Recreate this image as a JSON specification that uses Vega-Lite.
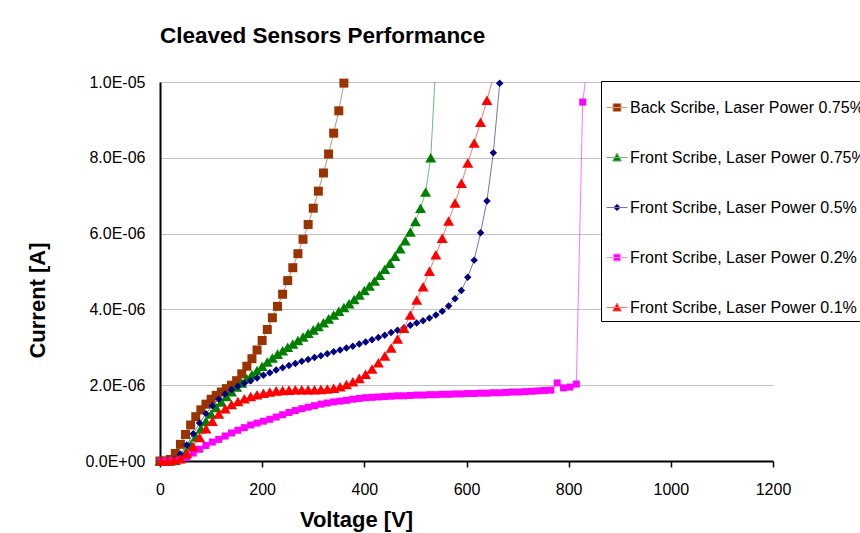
{
  "$schema": "https://vega.github.io/schema/vega-lite/v6.json",
  "width": 613,
  "height": 379,
  "autosize": {"type": "none"},
  "padding": {"left": 160, "top": 82, "right": 87, "bottom": 72},
  "background": "white",
  "title": {"text": "Cleaved Sensors Performance", "anchor": "start", "frame": "group", "offset": 9, "baseline": "alphabetic", "font": "Liberation Sans", "fontSize": 22.5, "fontWeight": "bold", "color": "black"},
  "config": {"view": {"stroke": null}, "font": "Liberation Sans"},
  "datasets": {
    "d": [
      {"s":"a","V":0,"I":0},{"s":"a","V":10,"I":0},{"s":"a","V":20,"I":0.04e-6},{"s":"a","V":30,"I":0.2e-6},{"s":"a","V":40,"I":0.44e-6},{"s":"a","V":50,"I":0.7e-6},{"s":"a","V":60,"I":0.95e-6},{"s":"a","V":70,"I":1.17e-6},{"s":"a","V":80,"I":1.35e-6},{"s":"a","V":90,"I":1.5e-6},{"s":"a","V":100,"I":1.63e-6},{"s":"a","V":110,"I":1.73e-6},{"s":"a","V":120,"I":1.82e-6},{"s":"a","V":130,"I":1.91e-6},{"s":"a","V":140,"I":2.0e-6},{"s":"a","V":150,"I":2.12e-6},{"s":"a","V":160,"I":2.3e-6},{"s":"a","V":170,"I":2.5e-6},{"s":"a","V":180,"I":2.7e-6},{"s":"a","V":190,"I":2.93e-6},{"s":"a","V":200,"I":3.18e-6},{"s":"a","V":210,"I":3.47e-6},{"s":"a","V":220,"I":3.78e-6},{"s":"a","V":230,"I":4.08e-6},{"s":"a","V":240,"I":4.4e-6},{"s":"a","V":250,"I":4.76e-6},{"s":"a","V":260,"I":5.1e-6},{"s":"a","V":270,"I":5.47e-6},{"s":"a","V":280,"I":5.85e-6},{"s":"a","V":290,"I":6.24e-6},{"s":"a","V":300,"I":6.67e-6},{"s":"a","V":310,"I":7.12e-6},{"s":"a","V":320,"I":7.6e-6},{"s":"a","V":330,"I":8.1e-6},{"s":"a","V":340,"I":8.65e-6},{"s":"a","V":350,"I":9.24e-6},{"s":"a","V":360,"I":9.97e-6},
      {"s":"b","V":0,"I":0},{"s":"b","V":10,"I":0},{"s":"b","V":20,"I":0},{"s":"b","V":30,"I":0.02e-6},{"s":"b","V":40,"I":0.08e-6},{"s":"b","V":50,"I":0.22e-6},{"s":"b","V":60,"I":0.42e-6},{"s":"b","V":70,"I":0.64e-6},{"s":"b","V":80,"I":0.85e-6},{"s":"b","V":90,"I":1.05e-6},{"s":"b","V":100,"I":1.24e-6},{"s":"b","V":110,"I":1.41e-6},{"s":"b","V":120,"I":1.56e-6},{"s":"b","V":130,"I":1.7e-6},{"s":"b","V":140,"I":1.83e-6},{"s":"b","V":150,"I":1.95e-6},{"s":"b","V":160,"I":2.06e-6},{"s":"b","V":170,"I":2.17e-6},{"s":"b","V":180,"I":2.28e-6},{"s":"b","V":190,"I":2.39e-6},{"s":"b","V":200,"I":2.5e-6},{"s":"b","V":210,"I":2.61e-6},{"s":"b","V":220,"I":2.72e-6},{"s":"b","V":230,"I":2.82e-6},{"s":"b","V":240,"I":2.91e-6},{"s":"b","V":250,"I":3.0e-6},{"s":"b","V":260,"I":3.09e-6},{"s":"b","V":270,"I":3.18e-6},{"s":"b","V":280,"I":3.27e-6},{"s":"b","V":290,"I":3.37e-6},{"s":"b","V":300,"I":3.46e-6},{"s":"b","V":310,"I":3.55e-6},{"s":"b","V":320,"I":3.65e-6},{"s":"b","V":330,"I":3.75e-6},{"s":"b","V":340,"I":3.85e-6},{"s":"b","V":350,"I":3.95e-6},{"s":"b","V":360,"I":4.05e-6},{"s":"b","V":370,"I":4.15e-6},{"s":"b","V":380,"I":4.26e-6},{"s":"b","V":390,"I":4.38e-6},{"s":"b","V":400,"I":4.5e-6},{"s":"b","V":410,"I":4.62e-6},{"s":"b","V":420,"I":4.75e-6},{"s":"b","V":430,"I":4.9e-6},{"s":"b","V":440,"I":5.06e-6},{"s":"b","V":450,"I":5.22e-6},{"s":"b","V":460,"I":5.4e-6},{"s":"b","V":470,"I":5.6e-6},{"s":"b","V":480,"I":5.81e-6},{"s":"b","V":490,"I":6.04e-6},{"s":"b","V":500,"I":6.32e-6},{"s":"b","V":510,"I":6.67e-6},{"s":"b","V":520,"I":7.1e-6},{"s":"b","V":530,"I":8.0e-6},{"s":"b","V":540,"I":10.5e-6},
      {"s":"c","V":2.5,"I":0},{"s":"c","V":15,"I":0},{"s":"c","V":27.5,"I":0.04e-6},{"s":"c","V":40,"I":0.18e-6},{"s":"c","V":52.5,"I":0.42e-6},{"s":"c","V":65,"I":0.72e-6},{"s":"c","V":77.5,"I":1.0e-6},{"s":"c","V":90,"I":1.25e-6},{"s":"c","V":102.5,"I":1.46e-6},{"s":"c","V":115,"I":1.63e-6},{"s":"c","V":127.5,"I":1.77e-6},{"s":"c","V":140,"I":1.88e-6},{"s":"c","V":152.5,"I":1.97e-6},{"s":"c","V":165,"I":2.05e-6},{"s":"c","V":177.5,"I":2.12e-6},{"s":"c","V":190,"I":2.19e-6},{"s":"c","V":202.5,"I":2.26e-6},{"s":"c","V":215,"I":2.33e-6},{"s":"c","V":227.5,"I":2.4e-6},{"s":"c","V":240,"I":2.46e-6},{"s":"c","V":252.5,"I":2.52e-6},{"s":"c","V":265,"I":2.57e-6},{"s":"c","V":277.5,"I":2.63e-6},{"s":"c","V":290,"I":2.68e-6},{"s":"c","V":302.5,"I":2.73e-6},{"s":"c","V":315,"I":2.78e-6},{"s":"c","V":327.5,"I":2.83e-6},{"s":"c","V":340,"I":2.88e-6},{"s":"c","V":352.5,"I":2.93e-6},{"s":"c","V":365,"I":2.98e-6},{"s":"c","V":377.5,"I":3.03e-6},{"s":"c","V":390,"I":3.09e-6},{"s":"c","V":402.5,"I":3.14e-6},{"s":"c","V":415,"I":3.2e-6},{"s":"c","V":427.5,"I":3.26e-6},{"s":"c","V":440,"I":3.32e-6},{"s":"c","V":452.5,"I":3.39e-6},{"s":"c","V":465,"I":3.45e-6},{"s":"c","V":477.5,"I":3.51e-6},{"s":"c","V":490,"I":3.58e-6},{"s":"c","V":502.5,"I":3.64e-6},{"s":"c","V":515,"I":3.7e-6},{"s":"c","V":527.5,"I":3.77e-6},{"s":"c","V":540,"I":3.85e-6},{"s":"c","V":552.5,"I":3.95e-6},{"s":"c","V":565,"I":4.09e-6},{"s":"c","V":577.5,"I":4.28e-6},{"s":"c","V":590,"I":4.5e-6},{"s":"c","V":602.5,"I":4.85e-6},{"s":"c","V":615,"I":5.3e-6},{"s":"c","V":627.5,"I":6.02e-6},{"s":"c","V":640,"I":6.86e-6},{"s":"c","V":652.5,"I":8.13e-6},{"s":"c","V":665,"I":9.97e-6},
      {"s":"d","V":2.5,"I":0},{"s":"d","V":15,"I":0},{"s":"d","V":27.5,"I":0},{"s":"d","V":40,"I":0.03e-6},{"s":"d","V":52.5,"I":0.1e-6},{"s":"d","V":65,"I":0.21e-6},{"s":"d","V":77.5,"I":0.31e-6},{"s":"d","V":90,"I":0.41e-6},{"s":"d","V":102.5,"I":0.5e-6},{"s":"d","V":115,"I":0.57e-6},{"s":"d","V":127.5,"I":0.66e-6},{"s":"d","V":140,"I":0.74e-6},{"s":"d","V":152.5,"I":0.81e-6},{"s":"d","V":165,"I":0.88e-6},{"s":"d","V":177.5,"I":0.95e-6},{"s":"d","V":190,"I":1.0e-6},{"s":"d","V":202.5,"I":1.05e-6},{"s":"d","V":215,"I":1.1e-6},{"s":"d","V":227.5,"I":1.16e-6},{"s":"d","V":240,"I":1.22e-6},{"s":"d","V":252.5,"I":1.28e-6},{"s":"d","V":265,"I":1.33e-6},{"s":"d","V":277.5,"I":1.38e-6},{"s":"d","V":290,"I":1.42e-6},{"s":"d","V":302.5,"I":1.46e-6},{"s":"d","V":315,"I":1.5e-6},{"s":"d","V":327.5,"I":1.53e-6},{"s":"d","V":340,"I":1.56e-6},{"s":"d","V":352.5,"I":1.58e-6},{"s":"d","V":365,"I":1.6e-6},{"s":"d","V":377.5,"I":1.63e-6},{"s":"d","V":390,"I":1.65e-6},{"s":"d","V":402.5,"I":1.67e-6},{"s":"d","V":415,"I":1.68e-6},{"s":"d","V":427.5,"I":1.69e-6},{"s":"d","V":440,"I":1.7e-6},{"s":"d","V":452.5,"I":1.71e-6},{"s":"d","V":465,"I":1.72e-6},{"s":"d","V":477.5,"I":1.72e-6},{"s":"d","V":490,"I":1.73e-6},{"s":"d","V":502.5,"I":1.74e-6},{"s":"d","V":515,"I":1.74e-6},{"s":"d","V":527.5,"I":1.75e-6},{"s":"d","V":540,"I":1.75e-6},{"s":"d","V":552.5,"I":1.76e-6},{"s":"d","V":565,"I":1.76e-6},{"s":"d","V":577.5,"I":1.77e-6},{"s":"d","V":590,"I":1.77e-6},{"s":"d","V":602.5,"I":1.78e-6},{"s":"d","V":615,"I":1.78e-6},{"s":"d","V":627.5,"I":1.79e-6},{"s":"d","V":640,"I":1.79e-6},{"s":"d","V":652.5,"I":1.8e-6},{"s":"d","V":665,"I":1.8e-6},{"s":"d","V":677.5,"I":1.81e-6},{"s":"d","V":690,"I":1.82e-6},{"s":"d","V":702.5,"I":1.82e-6},{"s":"d","V":715,"I":1.83e-6},{"s":"d","V":727.5,"I":1.84e-6},{"s":"d","V":740,"I":1.85e-6},{"s":"d","V":752.5,"I":1.86e-6},{"s":"d","V":765,"I":1.87e-6},{"s":"d","V":777.5,"I":2.06e-6},{"s":"d","V":790,"I":1.93e-6},{"s":"d","V":802.5,"I":1.95e-6},{"s":"d","V":815,"I":2.03e-6},{"s":"d","V":827.5,"I":9.47e-6},{"s":"d","V":840,"I":10.8e-6},
      {"s":"e","V":2.5,"I":0},{"s":"e","V":15,"I":0},{"s":"e","V":27.5,"I":0.02e-6},{"s":"e","V":40,"I":0.06e-6},{"s":"e","V":52.5,"I":0.2e-6},{"s":"e","V":65,"I":0.38e-6},{"s":"e","V":77.5,"I":0.62e-6},{"s":"e","V":90,"I":0.85e-6},{"s":"e","V":102.5,"I":1.05e-6},{"s":"e","V":115,"I":1.24e-6},{"s":"e","V":127.5,"I":1.38e-6},{"s":"e","V":140,"I":1.49e-6},{"s":"e","V":152.5,"I":1.57e-6},{"s":"e","V":165,"I":1.64e-6},{"s":"e","V":177.5,"I":1.7e-6},{"s":"e","V":190,"I":1.75e-6},{"s":"e","V":202.5,"I":1.79e-6},{"s":"e","V":215,"I":1.82e-6},{"s":"e","V":227.5,"I":1.85e-6},{"s":"e","V":240,"I":1.86e-6},{"s":"e","V":252.5,"I":1.87e-6},{"s":"e","V":265,"I":1.88e-6},{"s":"e","V":277.5,"I":1.88e-6},{"s":"e","V":290,"I":1.88e-6},{"s":"e","V":302.5,"I":1.88e-6},{"s":"e","V":315,"I":1.89e-6},{"s":"e","V":327.5,"I":1.9e-6},{"s":"e","V":340,"I":1.92e-6},{"s":"e","V":352.5,"I":1.96e-6},{"s":"e","V":365,"I":2.02e-6},{"s":"e","V":377.5,"I":2.09e-6},{"s":"e","V":390,"I":2.18e-6},{"s":"e","V":402.5,"I":2.29e-6},{"s":"e","V":415,"I":2.43e-6},{"s":"e","V":427.5,"I":2.59e-6},{"s":"e","V":440,"I":2.77e-6},{"s":"e","V":452.5,"I":2.98e-6},{"s":"e","V":465,"I":3.22e-6},{"s":"e","V":477.5,"I":3.5e-6},{"s":"e","V":490,"I":3.85e-6},{"s":"e","V":502.5,"I":4.25e-6},{"s":"e","V":515,"I":4.6e-6},{"s":"e","V":527.5,"I":5.01e-6},{"s":"e","V":540,"I":5.44e-6},{"s":"e","V":552.5,"I":5.88e-6},{"s":"e","V":565,"I":6.33e-6},{"s":"e","V":577.5,"I":6.81e-6},{"s":"e","V":590,"I":7.33e-6},{"s":"e","V":602.5,"I":7.86e-6},{"s":"e","V":615,"I":8.39e-6},{"s":"e","V":627.5,"I":8.94e-6},{"s":"e","V":640,"I":9.52e-6},{"s":"e","V":652.5,"I":10.12e-6}
    ]
  },
  "data": {"name": "d"},
  "encoding": {
    "x": {
      "field": "V", "type": "quantitative",
      "scale": {"domain": [0, 1200], "nice": false},
      "axis": {
        "values": [0, 200, 400, 600, 800, 1000, 1200], "format": "d",
        "title": "Voltage [V]", "titleFont": "Liberation Sans", "titleFontSize": 22, "titleFontWeight": "bold", "titleColor": "black",
        "titleX": 196, "titleY": 58, "titleAlign": "center", "titleBaseline": "middle", "titleAnchor": null,
        "labelFont": "Liberation Sans", "labelFontSize": 16, "labelColor": "black", "labelPadding": 14, "labelFlush": false, "labelOverlap": false,
        "tickColor": "black", "tickSize": 6, "tickWidth": 1.5,
        "domainColor": "black", "domainWidth": 2, "grid": false
      }
    },
    "y": {
      "field": "I", "type": "quantitative",
      "scale": {"domain": [0, 1e-5], "nice": false},
      "axis": {
        "values": [0, 2e-6, 4e-6, 6e-6, 8e-6, 1e-5],
        "labelExpr": "datum.value == 0 ? '0.0E+00' : (datum.value >= 9.99e-6 ? '1.0E-05' : format(datum.value / 1e-6, '.1f') + 'E-06')",
        "title": "Current [A]", "titleFont": "Liberation Sans", "titleFontSize": 22, "titleFontWeight": "bold", "titleColor": "black",
        "titleX": -123, "titleY": 218, "titleAngle": -90, "titleAlign": "center", "titleBaseline": "middle", "titleAnchor": null,
        "labelFont": "Liberation Sans", "labelFontSize": 16, "labelColor": "black", "labelPadding": 15, "labelOverlap": false, "labelFlush": false,
        "ticks": false, "tickSize": 0,
        "domainColor": "black", "domainWidth": 2,
        "grid": true, "gridColor": "#c0c0c0", "gridWidth": 1
      }
    }
  },
  "layer": [
    {
      "mark": {"type": "line", "strokeWidth": 1, "opacity": 0.55, "clip": true},
      "encoding": {
        "color": {"field": "s", "type": "nominal", "scale": {"domain": ["a", "b", "c", "d", "e"], "range": ["#993300", "#008000", "#000080", "#ff00ff", "#ff0000"]}, "legend": null}
      }
    },
    {
      "transform": [{"filter": "datum.s == 'a' && datum.I <= 1.0001e-5"}],
      "mark": {"type": "point", "filled": true, "opacity": 1, "strokeWidth": 0, "shape": "square", "size": 81},
      "encoding": {"color": {"field": "s", "type": "nominal", "legend": null}}
    },
    {
      "transform": [{"filter": "datum.s == 'b' && datum.I <= 1.0001e-5"}],
      "mark": {"type": "point", "filled": true, "opacity": 1, "strokeWidth": 0, "shape": "triangle-up", "size": 121},
      "encoding": {"color": {"field": "s", "type": "nominal", "legend": null}}
    },
    {
      "transform": [{"filter": "datum.s == 'c' && datum.I <= 1.0001e-5"}],
      "mark": {"type": "point", "filled": true, "opacity": 1, "strokeWidth": 0, "shape": "diamond", "size": 56},
      "encoding": {"color": {"field": "s", "type": "nominal", "legend": null}}
    },
    {
      "transform": [{"filter": "datum.s == 'd' && datum.I <= 1.0001e-5"}],
      "mark": {"type": "point", "filled": true, "opacity": 1, "strokeWidth": 0, "shape": "square", "size": 49},
      "encoding": {"color": {"field": "s", "type": "nominal", "legend": null}}
    },
    {
      "transform": [{"filter": "datum.s == 'e' && datum.I <= 1.0001e-5"}],
      "mark": {"type": "point", "filled": true, "opacity": 1, "strokeWidth": 0, "shape": "triangle-up", "size": 121},
      "encoding": {"color": {"field": "s", "type": "nominal", "legend": null}}
    },
    {
      "transform": [{"filter": "datum.I < 0"}],
      "mark": {"type": "point", "filled": true, "opacity": 1},
      "encoding": {
        "fill": {
          "field": "s", "type": "nominal",
          "scale": {"domain": ["a", "b", "c", "d", "e"], "range": ["#993300", "#008000", "#000080", "#ff00ff", "#ff0000"]},
          "legend": {
            "title": null, "orient": "none", "legendX": 441, "legendY": -1,
            "padding": 5, "strokeColor": "black", "fillColor": "white",
            "symbolSize": 1764, "symbolStrokeWidth": 1, "symbolOpacity": 1, "symbolFillColor": "white", "symbolStrokeColor": "gray",
            "labelFont": "Liberation Sans", "labelFontSize": 16, "labelColor": "black", "labelOffset": -19, "labelLimit": 400,
            "rowPadding": 20,
            "labelExpr": "datum.label == 'a' ? 'Back Scribe, Laser Power 0.75%' : datum.label == 'b' ? 'Front Scribe, Laser Power 0.75%' : datum.label == 'c' ? 'Front Scribe, Laser Power 0.5%' : datum.label == 'd' ? 'Front Scribe, Laser Power 0.2%' : 'Front Scribe, Laser Power 0.1%'"
          }
        },
        "stroke": {
          "field": "s", "type": "nominal",
          "scale": {"domain": ["a", "b", "c", "d", "e"], "range": ["#d49a80", "#70b870", "#7070c0", "#ff90ff", "#ff7070"]},
          "legend": {
            "title": null, "orient": "none", "legendX": 441, "legendY": -1,
            "padding": 5, "strokeColor": "black", "fillColor": "white",
            "symbolSize": 1764, "symbolStrokeWidth": 1, "symbolOpacity": 1, "symbolFillColor": "white", "symbolStrokeColor": "gray",
            "labelFont": "Liberation Sans", "labelFontSize": 16, "labelColor": "black", "labelOffset": -19, "labelLimit": 400,
            "rowPadding": 20,
            "labelExpr": "datum.label == 'a' ? 'Back Scribe, Laser Power 0.75%' : datum.label == 'b' ? 'Front Scribe, Laser Power 0.75%' : datum.label == 'c' ? 'Front Scribe, Laser Power 0.5%' : datum.label == 'd' ? 'Front Scribe, Laser Power 0.2%' : 'Front Scribe, Laser Power 0.1%'"
          }
        },
        "shape": {
          "field": "s", "type": "nominal",
          "scale": {"domain": ["a", "b", "c", "d", "e"], "range": [
            "M-1,0H0M-0.69,-0.19H-0.31V0.19H-0.69Z",
            "M-1,0H0M-0.5,-0.21L-0.29,0.17H-0.71Z",
            "M-1,0H0M-0.5,-0.17L-0.33,0L-0.5,0.17L-0.67,0Z",
            "M-1,0H0M-0.665,-0.165H-0.335V0.165H-0.665Z",
            "M-1,0H0M-0.5,-0.21L-0.29,0.17H-0.71Z"
          ]},
          "legend": {
            "title": null, "orient": "none", "legendX": 441, "legendY": -1,
            "padding": 5, "strokeColor": "black", "fillColor": "white",
            "symbolSize": 1764, "symbolStrokeWidth": 1, "symbolOpacity": 1, "symbolFillColor": "white", "symbolStrokeColor": "gray",
            "labelFont": "Liberation Sans", "labelFontSize": 16, "labelColor": "black", "labelOffset": -19, "labelLimit": 400,
            "rowPadding": 20,
            "labelExpr": "datum.label == 'a' ? 'Back Scribe, Laser Power 0.75%' : datum.label == 'b' ? 'Front Scribe, Laser Power 0.75%' : datum.label == 'c' ? 'Front Scribe, Laser Power 0.5%' : datum.label == 'd' ? 'Front Scribe, Laser Power 0.2%' : 'Front Scribe, Laser Power 0.1%'"
          }
        }
      }
    }
  ],
  "resolve": {"scale": {"shape": "independent", "fill": "independent", "stroke": "independent"}}
}
